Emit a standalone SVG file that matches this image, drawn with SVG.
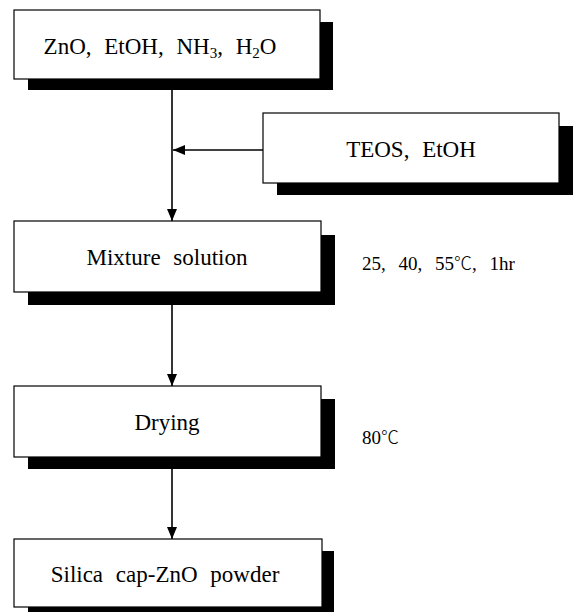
<svg xmlns="http://www.w3.org/2000/svg" width="576" height="612" viewBox="0 0 576 612">
<style>
.box{fill:#fff;stroke:#000;stroke-width:1.2}
.sh{fill:#000}
.t{font-family:"Liberation Serif","DejaVu Serif",serif;font-size:23px;fill:#000;text-anchor:middle;word-spacing:7px}
.a{font-family:"Liberation Serif","DejaVu Serif",serif;font-size:19px;fill:#000;word-spacing:8px}
.deg{font-family:"Noto Sans CJK KR","DejaVu Serif",sans-serif;font-weight:300;font-size:18px}
.c{stroke:#000;stroke-width:1.6;fill:none}
</style>
<defs>
<marker id="ah" viewBox="0 0 12 10" refX="12" refY="5" markerWidth="12" markerHeight="10" markerUnits="userSpaceOnUse" orient="auto">
<path d="M0,0 L12,5 L0,10 z" fill="#000"/>
</marker>
</defs>
<rect width="576" height="612" fill="#fff"/>
<g id="connectors">
<line class="c" x1="172" y1="79" x2="172" y2="221" marker-end="url(#ah)"/>
<line class="c" x1="263" y1="150" x2="173" y2="150" marker-end="url(#ah)"/>
<line class="c" x1="172" y1="303" x2="172" y2="386" marker-end="url(#ah)"/>
<line class="c" x1="172" y1="468" x2="172" y2="539" marker-end="url(#ah)"/>
</g>
<g id="n1">
<rect class="sh" x="28" y="22" width="305" height="68"/>
<rect class="box" x="14" y="10" width="306" height="69"/>
<text class="t" x="160" y="54">ZnO, EtOH, NH<tspan font-size="15" dy="4">3</tspan><tspan dy="-4">, H</tspan><tspan font-size="15" dy="4">2</tspan><tspan dy="-4">O</tspan></text>
</g>
<g id="n2">
<rect class="sh" x="277" y="126" width="296" height="69"/>
<rect class="box" x="263" y="113" width="296" height="70"/>
<text class="t" x="411" y="157">TEOS, EtOH</text>
</g>
<g id="n3">
<rect class="sh" x="28" y="235" width="307" height="70"/>
<rect class="box" x="14" y="221" width="307" height="71"/>
<text class="t" x="167" y="265">Mixture solution</text>
</g>
<text class="a" x="362" y="270">25, 40, 55<tspan class="deg">℃</tspan>, 1hr</text>
<g id="n4">
<rect class="sh" x="28" y="399" width="307" height="70"/>
<rect class="box" x="14" y="386" width="307" height="71"/>
<text class="t" x="167" y="430">Drying</text>
</g>
<text class="a" x="362" y="444">80<tspan class="deg">℃</tspan></text>
<g id="n5">
<rect class="sh" x="28" y="551" width="306" height="70"/>
<rect class="box" x="14" y="539" width="308" height="68"/>
<text class="t" x="165" y="582">Silica cap-ZnO powder</text>
</g>
</svg>
